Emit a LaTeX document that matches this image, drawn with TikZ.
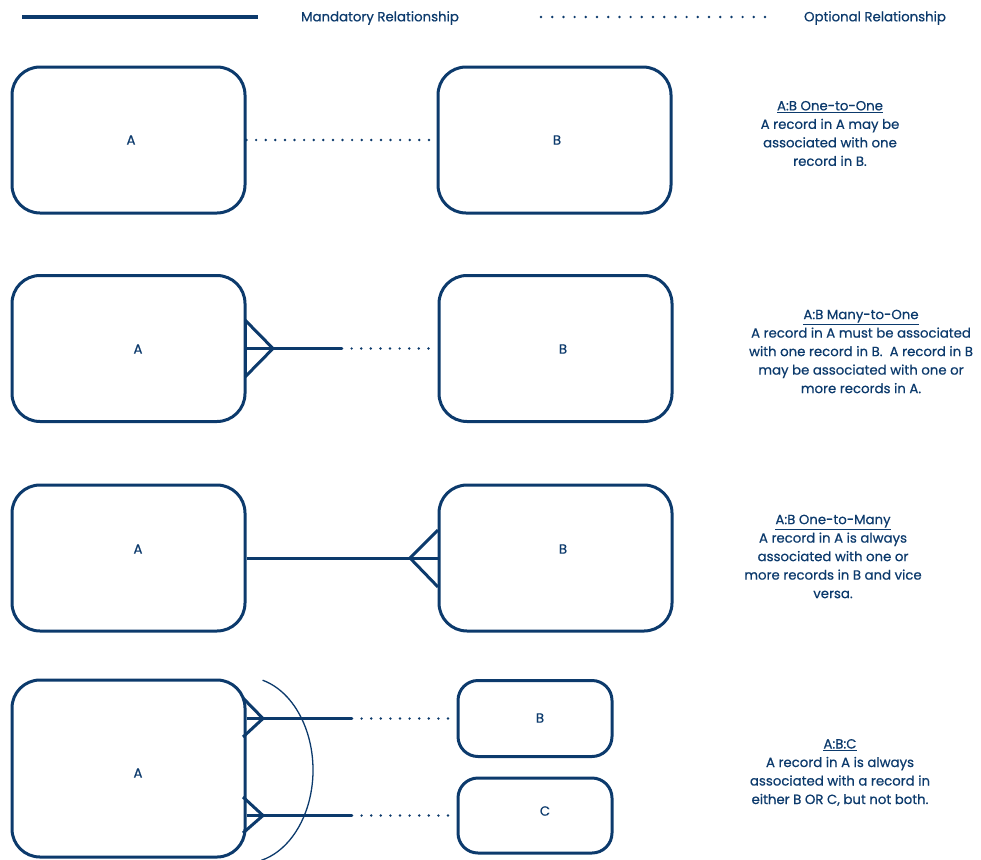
\documentclass[tikz,border=0pt]{standalone}
\usepackage{fontspec}
\setmainfont{Poppins}[FakeBold=0.6]
\definecolor{navy}{HTML}{0C3A6C}
\begin{document}
\begin{tikzpicture}[x=1pt,y=-1pt,
  box/.style={draw=navy, line width=3pt, rounded corners=28pt, inner sep=0pt, minimum width=233pt, minimum height=146pt},
  sbox/.style={box, rounded corners=20pt, minimum width=154pt, minimum height=76pt},
  tx/.style={text=navy, font=\fontsize{13.3}{18.5}\selectfont, inner sep=0pt},
  desc/.style={tx, align=center},
  mand/.style={draw=navy, line width=3pt},
  opt/.style={draw=navy, line width=2.7pt, line cap=round, dash pattern=on 0pt off 9.6pt},
  arcline/.style={draw=navy, line width=1.3pt}]
\useasboundingbox (0,0) rectangle (981,859);

% legend
\coordinate (l1) at (22,17);
\coordinate (l2) at (258,17);
\draw[mand, line width=3.4pt] (l1) -- (l2);
\node[tx] (lt1) at (380,18) {Mandatory Relationship};
\coordinate (l3) at (541,17);
\coordinate (l4) at (765,17);
\draw[opt, dash pattern=on 0pt off 11.2pt] (l3) -- (l4);
\node[tx] (lt2) at (875,18) {Optional Relationship};

% row 1
\node[box] (a1) at (128.5,140) {};
\node[tx] (la1) at (131,140) {A};
\node[box] (b1) at (554.5,140) {};
\node[tx] (lb1) at (557,140) {B};
\draw[opt] (a1.east) -- (b1.west);
\node[desc] (d1) at (830,133.5) {\underline{A:B One-to-One}\\A record in A may be\\associated with one\\record in B.};

% row 2
\node[box] (a2) at (128.5,348.5) {};
\node[tx] (la2) at (138,349) {A};
\node[box] (b2) at (555.5,348.5) {};
\node[tx] (lb2) at (563,349) {B};
\coordinate (m2) at (342,348.5);
\coordinate (f2) at (273,348.5);
\coordinate (f2a) at (245,320);
\coordinate (f2b) at (245,377);
\draw[mand] (a2.east) -- (m2);
\draw[opt] (m2) -- (b2.west);
\draw[mand, line join=miter] (f2a) -- (f2) -- (f2b);
\draw[mand] (f2a) -- (f2b);
\node[desc] (d2) at (861,351.5) {\underline{A:B Many-to-One}\\A record in A must be associated\\with one record in B.\ \ A record in B\\may be associated with one or\\more records in A.};

% row 3
\node[box] (a3) at (128.5,558) {};
\node[tx] (la3) at (138,549) {A};
\node[box] (b3) at (555.5,558) {};
\node[tx] (lb3) at (563,549) {B};
\coordinate (f3) at (410,558);
\coordinate (f3a) at (438,530);
\coordinate (f3b) at (438,587);
\draw[mand] (a3.east) -- (b3.west);
\draw[mand, line join=miter] (f3a) -- (f3) -- (f3b);
\node[desc] (d3) at (833,556.5) {\underline{A:B One-to-Many}\\A record in A is always\\associated with one or\\more records in B and vice\\versa.};

% row 4
\node[box, minimum height=177pt] (a4) at (128.5,768.5) {};
\node[tx] (la4) at (138,773) {A};
\node[sbox] (b4) at (535,718.5) {};
\node[tx] (lb4) at (540,718) {B};
\node[sbox, minimum height=75pt] (c4) at (535,815.5) {};
\node[tx] (lc4) at (545,811) {C};
\coordinate (t4) at (263,718.5);
\coordinate (t4e) at (352,718.5);
\coordinate (t4a) at (243,698);
\coordinate (t4b) at (243,737);
\coordinate (u4) at (263,815.5);
\coordinate (u4e) at (352,815.5);
\coordinate (u4a) at (243,797);
\coordinate (u4b) at (243,833);
\draw[mand] (a4.east |- t4) -- (t4e);
\draw[opt] (t4e) -- (b4.west);
\draw[mand] (t4a) -- (t4) -- (t4b);
\draw[mand] (a4.east |- u4) -- (u4e);
\draw[opt] (u4e) -- (c4.west);
\draw[mand] (u4a) -- (u4) -- (u4b);
\coordinate (arcs) at (262.6,680.2);
\draw[arcline] (arcs) arc[start angle=-75, end angle=76, x radius=68, y radius=93];
\node[desc] (d4) at (840,772.5) {\underline{A:B:C}\\A record in A is always\\associated with a record in\\either B OR C, but not both.};
\end{tikzpicture}
\end{document}
